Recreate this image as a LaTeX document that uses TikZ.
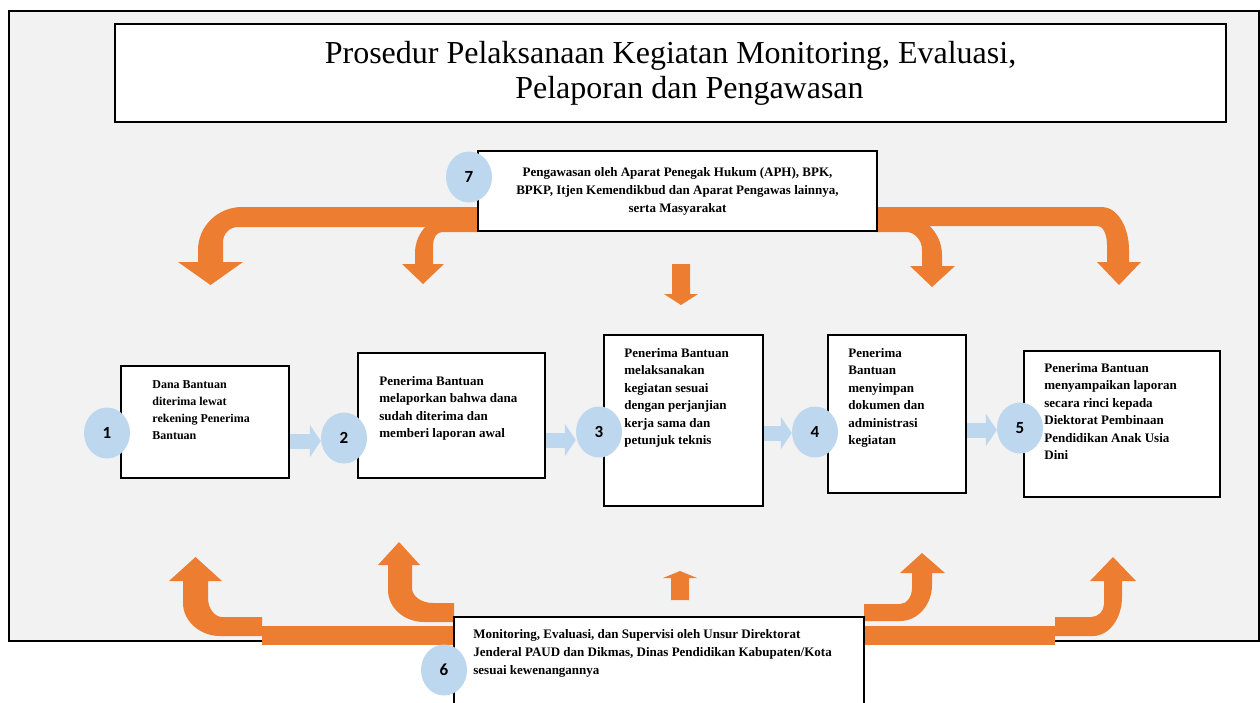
\documentclass[tikz,border=0pt]{standalone}
\usepackage{fontspec}
\setmainfont{Liberation Serif}
\newfontfamily\numfont{Carlito}
\usetikzlibrary{arrows.meta,positioning,shapes.geometric}

\definecolor{panelgray}{HTML}{F2F2F2}
\definecolor{bentorange}{HTML}{ED7D31}
\definecolor{stepblue}{HTML}{BDD7EE}

\pgfdeclarelayer{top}
\pgfsetlayers{main,top}

\tikzset{
  box/.style={draw,line width=1.6pt,fill=white,inner sep=0pt},
  boxtext/.style={inner sep=0pt,align=left,font=\fontsize{13}{17.5}\selectfont\bfseries},
  num/.style={ellipse,fill=stepblue,inner sep=0pt,minimum width=46pt,minimum height=51pt,
    font=\numfont\bfseries\fontsize{17}{17}\selectfont},
  flow/.style={draw=stepblue,line width=15pt,-{Triangle[width=32pt,length=11pt]}},
  bent/.style={fill=bentorange}
}

\begin{document}
\begin{tikzpicture}[x=1pt,y=-1pt]
  \useasboundingbox (0,0) rectangle (1260,702);
  \filldraw[fill=panelgray,line width=1.8pt] (9,11) rectangle (1259,641);

  % bent arrows from the supervision box (top)
  \fill[bent] (478,207) -- (242,207) .. controls (217.7,207) and (198,226.3) .. (198,250)
    -- (198,262) -- (178,262) -- (210.5,285) -- (243,262) -- (223,262) -- (223,242)
    .. controls (223,233.7) and (229.7,227) .. (238,227) -- (478,227) -- cycle;
  \fill[bent] (478,214) -- (455,214) .. controls (432.9,214) and (415,231.5) .. (415,253)
    -- (415,264) -- (402,264) -- (423,284) -- (444,264) -- (433,264) -- (433,245)
    .. controls (433,237.8) and (437,232) .. (442,232) -- (478,232) -- cycle;
  \fill[bent] (876,214) -- (900,214) .. controls (923.2,214) and (942,232.4) .. (942,255)
    -- (942,266) -- (955,266) -- (932,287) -- (910,266) -- (922,266) -- (922,250)
    .. controls (922,240.1) and (914.8,232) .. (906,232) -- (876,232) -- cycle;
  \fill[bent] (876,207) -- (1102,207) .. controls (1116.9,207) and (1129,226.3) .. (1129,250)
    -- (1129,262) -- (1141,262) -- (1119,285) -- (1097,262) -- (1107,262) -- (1107,245)
    .. controls (1107,234.5) and (1103,226) .. (1098,226) -- (876,226) -- cycle;
  \fill[bent] (672,264) -- (690,264) -- (690,294) -- (698,294) -- (681,305) -- (664,294)
    -- (672,294) -- cycle;

  % bent arrows from the monitoring box (bottom)
  \fill[bent] (262,617) -- (222,617) .. controls (214.8,617) and (208,608.5) .. (208,598)
    -- (208,581) -- (222,581) -- (195.5,557) -- (169,581) -- (183,581) -- (183,603)
    .. controls (183,621.2) and (200.1,636) .. (220,636) -- (262,636) -- cycle;
  \fill[bent] (262,626) rectangle (454,645);
  \fill[bent] (454,603) -- (433,603) .. controls (421.4,603) and (412,596.3) .. (412,588)
    -- (412,565) -- (420,565) -- (399,542) -- (378,565) -- (388,565) -- (388,590)
    .. controls (388,607.7) and (404.1,622) .. (424,622) -- (454,622) -- cycle;
  \fill[bent] (864,604) -- (900,604) .. controls (906.6,604) and (912,596.8) .. (912,588)
    -- (912,573) -- (900,573) -- (922,553) -- (945,573) -- (932,573) -- (932,585)
    .. controls (932,604.9) and (917.7,621) .. (900,621) -- (864,621) -- cycle;
  \fill[bent] (864,626) rectangle (1055,645);
  \fill[bent] (1055,617) -- (1091,617) .. controls (1098.2,617) and (1104,611.2) .. (1104,604)
    -- (1104,581) -- (1090,581) -- (1113,557) -- (1136,581) -- (1122,581) -- (1122,597)
    .. controls (1122,618.5) and (1109,636) .. (1093,636) -- (1055,636) -- cycle;
  \fill[bent] (671,600) -- (689,600) -- (689,578) -- (697,578) -- (680,571) -- (663,578)
    -- (671,578) -- cycle;

  % boxes
  \node[box,minimum width=1111pt,minimum height=98pt,align=center,
    font=\fontsize{32}{35}\selectfont] (title) at (670.5,73)
    {Prosedur Pelaksanaan Kegiatan Monitoring, Evaluasi,\\\hspace*{38pt}Pelaporan dan Pengawasan};
  \node[box,minimum width=399pt,minimum height=80pt,align=center,
    font=\fontsize{13}{18}\selectfont\bfseries] (b7) at (677.5,191)
    {Pengawasan oleh Aparat Penegak Hukum (APH), BPK,\\
     BPKP, Itjen Kemendikbud dan Aparat Pengawas lainnya,\\
     serta Masyarakat};
  \node[box,minimum width=168pt,minimum height=112pt] (b1) at (205,422) {};
  \node[box,minimum width=187pt,minimum height=125pt] (b2) at (451.5,415.5) {};
  \node[box,minimum width=159pt,minimum height=171pt] (b3) at (683.5,420.5) {};
  \node[box,minimum width=138pt,minimum height=158pt] (b4) at (897,414) {};
  \node[box,minimum width=196pt,minimum height=146pt] (b5) at (1122,424) {};
  \node[box,minimum width=410pt,minimum height=87pt] (b6) at (659,660.5) {};

  \node[boxtext,font=\fontsize{12}{17}\selectfont\bfseries,
    below right=15pt and 32pt of b1.north west] (t1)
    {Dana Bantuan\\diterima lewat\\rekening Penerima\\Bantuan};
  \node[boxtext,below right=24pt and 22pt of b2.north west] (t2)
    {Penerima Bantuan\\melaporkan bahwa dana\\sudah diterima dan\\memberi laporan awal};
  \node[boxtext,below right=14pt and 21pt of b3.north west] (t3)
    {Penerima Bantuan\\melaksanakan\\kegiatan sesuai\\dengan perjanjian\\kerja sama dan\\petunjuk teknis};
  \node[boxtext,below right=14pt and 21pt of b4.north west] (t4)
    {Penerima\\Bantuan\\menyimpan\\dokumen dan\\administrasi\\kegiatan};
  \node[boxtext,below right=13pt and 21pt of b5.north west] (t5)
    {Penerima Bantuan\\menyampaikan laporan\\secara rinci kepada\\Diektorat Pembinaan\\Pendidikan Anak Usia\\Dini};
  \node[boxtext,font=\fontsize{13}{18}\selectfont\bfseries,
    below right=13pt and 20pt of b6.north west] (t6)
    {Monitoring, Evaluasi, dan Supervisi oleh Unsur Direktorat\\
     Jenderal PAUD dan Dikmas, Dinas Pendidikan Kabupaten/Kota\\
     sesuai kewenangannya};

  % numbered steps
  \begin{pgfonlayer}{top}
    \node[num] (c1) at (107,433) {1};
    \node[num] (c2) at (344,438) {2};
    \node[num] (c3) at (599,432) {3};
    \node[num] (c4) at (815,432) {4};
    \node[num] (c5) at (1020,428) {5};
    \node[num] (c6) at (444,670) {6};
    \node[num] (c7) at (469,177) {7};
  \end{pgfonlayer}

  \coordinate (h12) at ([yshift=-3pt]c2.west);
  \coordinate (h23) at ([yshift=-8pt]c3.west);
  \coordinate (h34) at ([yshift=-1pt]c4.west);
  \coordinate (h45) at ([yshift=-2pt]c5.west);
  \draw[flow] (b1.east |- h12) -- (h12);
  \draw[flow] (b2.east |- h23) -- (h23);
  \draw[flow] (b3.east |- h34) -- (h34);
  \draw[flow] (b4.east |- h45) -- (h45);
\end{tikzpicture}
\end{document}
